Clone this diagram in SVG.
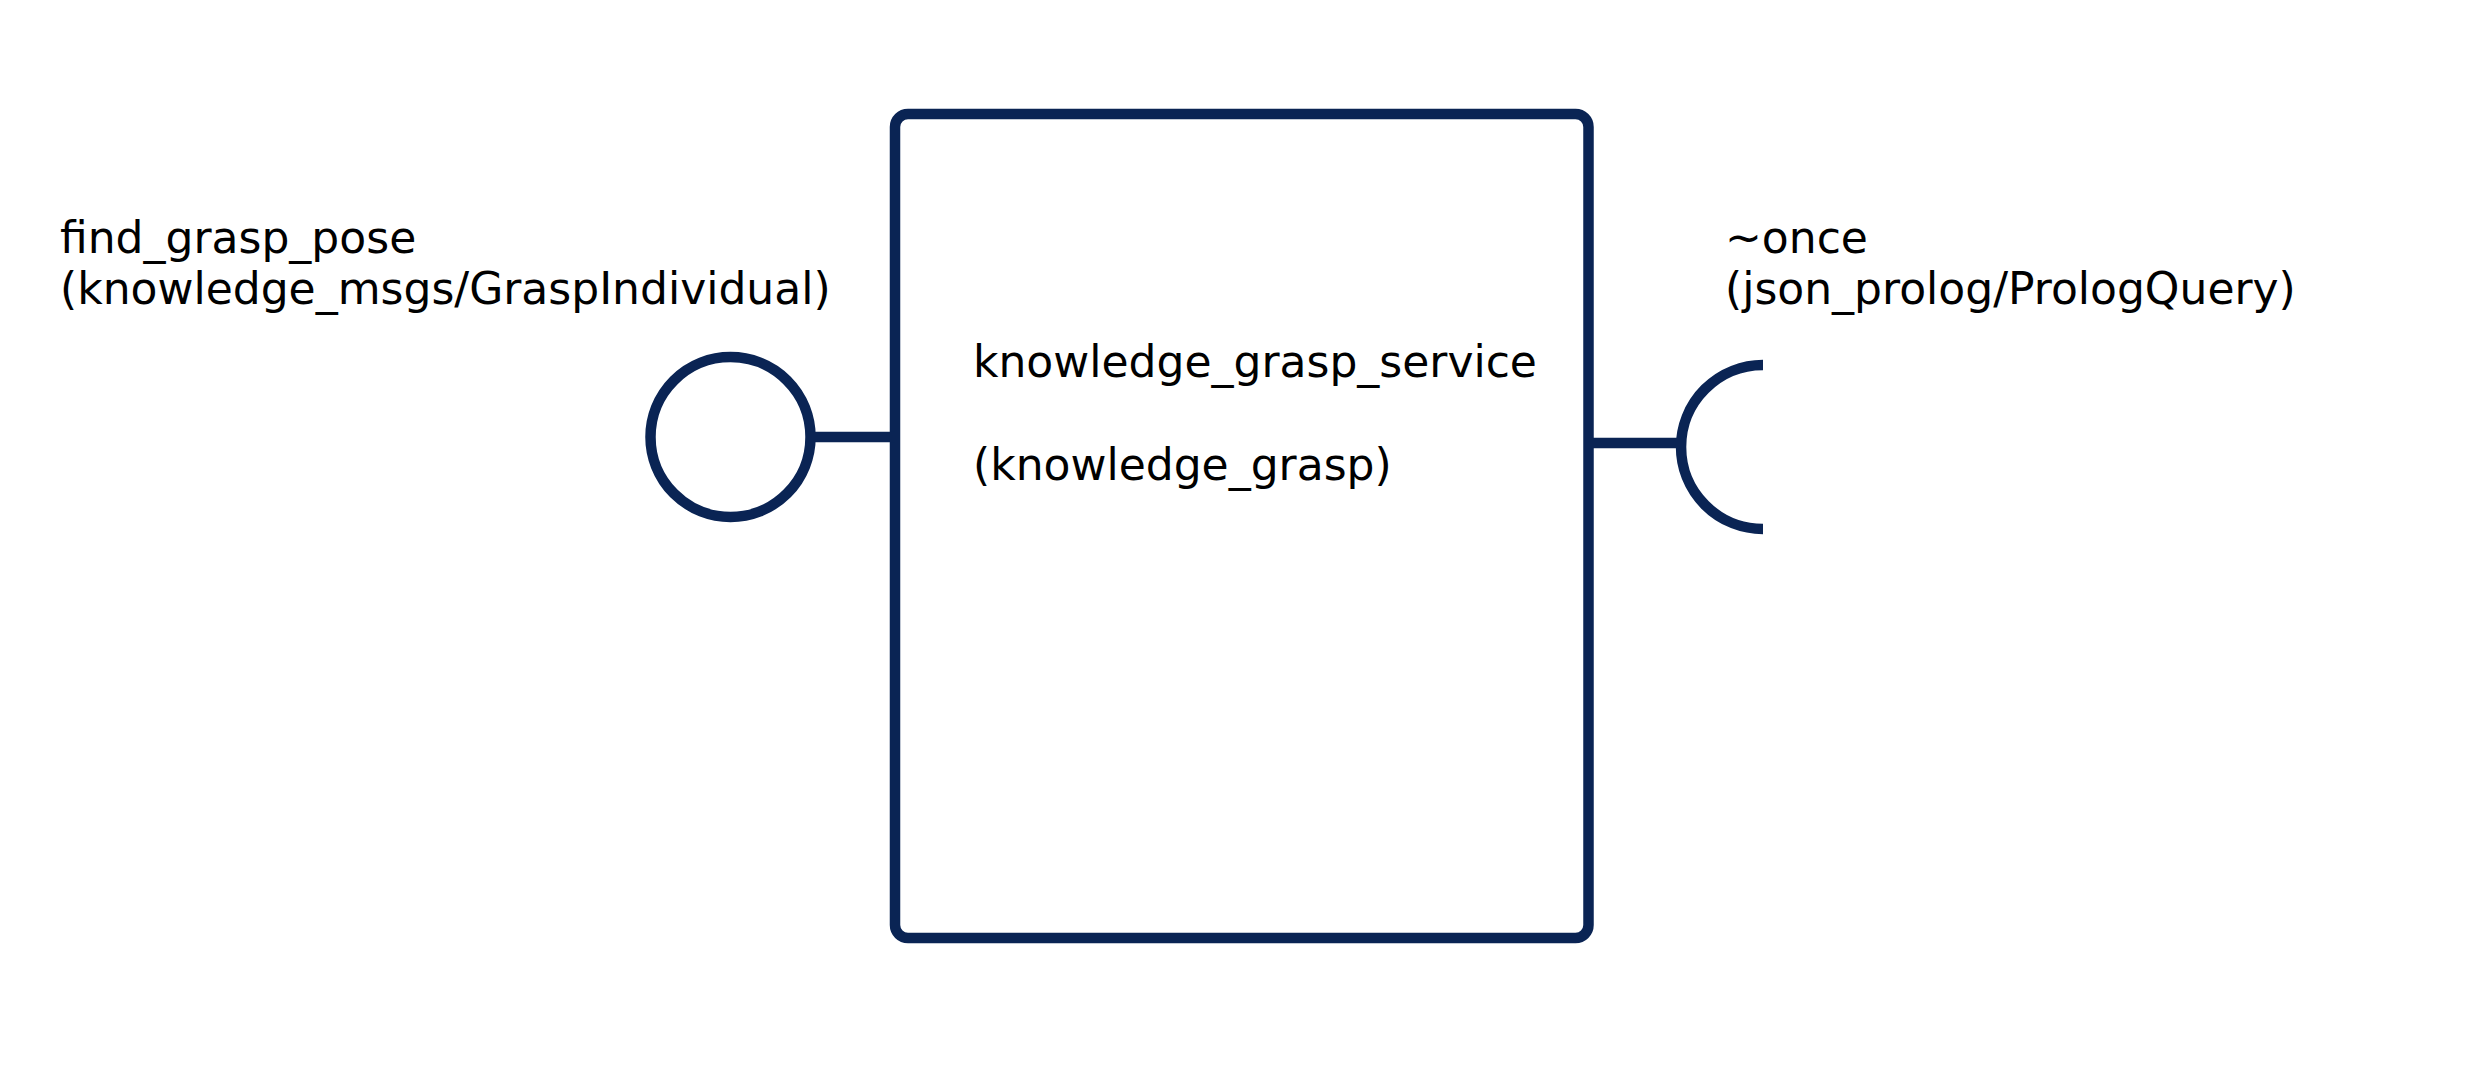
<svg xmlns="http://www.w3.org/2000/svg" width="2480" height="1067" viewBox="0 0 2480 1067">
<style>
.ln{fill:none;stroke:#0a2454;stroke-width:10.5}
.t{font-family:"DejaVu Sans",sans-serif;font-size:44px;fill:#000}
</style>
<rect width="2480" height="1067" fill="#fff"/>
<g id="component">
<rect class="ln" x="895" y="114" width="693.5" height="824" rx="13"/>
<text class="t" x="973" y="377">knowledge_grasp_service</text>
<text class="t" x="973" y="480">(knowledge_grasp)</text>
</g>
<g id="provided-interface">
<circle class="ln" cx="730.5" cy="437" r="80"/>
<text class="t" x="60" y="253">find_grasp_pose</text>
<text class="t" x="60" y="304">(knowledge_msgs/GraspIndividual)</text>
</g>
<g id="required-interface">
<path class="ln" d="M1763 365 A82 82 0 0 0 1763 529"/>
<text class="t" x="1725" y="253">~once</text>
<text class="t" x="1725" y="304">(json_prolog/PrologQuery)</text>
</g>
<g id="connectors">
<line class="ln" x1="810" y1="437" x2="895" y2="437"/>
<line class="ln" x1="1588" y1="443" x2="1681" y2="443"/>
</g>
</svg>
